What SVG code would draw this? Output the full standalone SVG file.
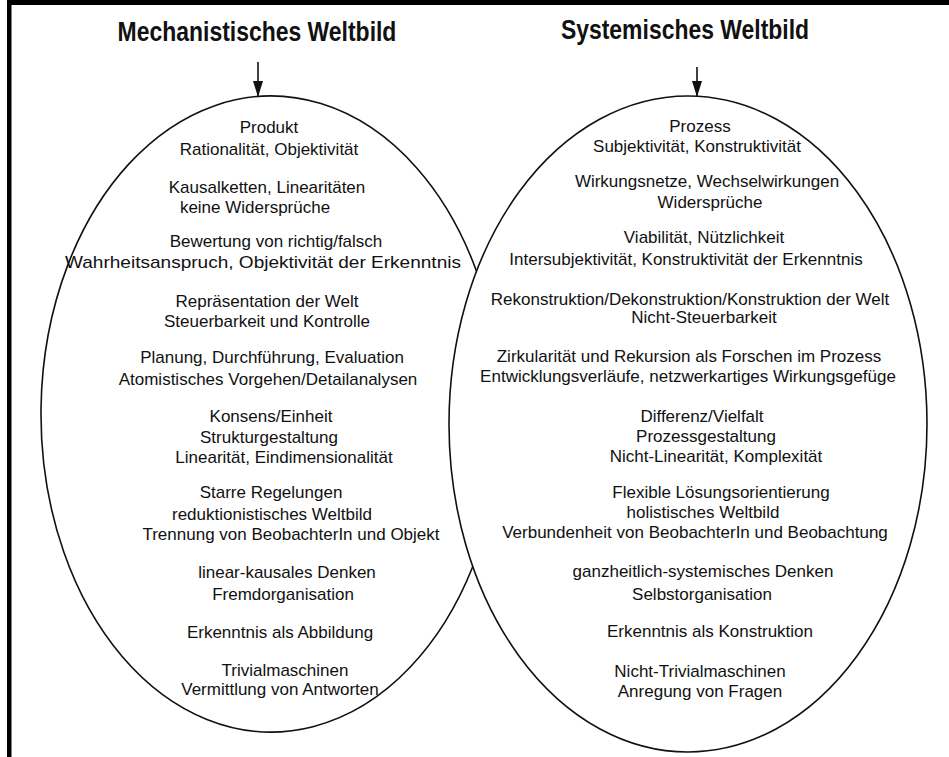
<svg xmlns="http://www.w3.org/2000/svg" width="949" height="757" viewBox="0 0 949 757">
  <style>
    .frame { fill: #000; }
    .title { font-family: "Liberation Sans", Arial, sans-serif; font-weight: bold; font-size: 27px; fill: #111; text-anchor: middle; }
    .item { font-family: "Liberation Sans", Arial, sans-serif; font-size: 17px; fill: #111; text-anchor: middle; }
    .outline { fill: none; stroke: #111; stroke-width: 1.6; }
    .link { stroke: #111; stroke-width: 1.6; fill: none; marker-end: url(#arrowhead); }
  </style>
  <defs>
    <marker id="arrowhead" viewBox="0 0 16 10" refX="16" refY="5" markerWidth="16" markerHeight="10" markerUnits="userSpaceOnUse" orient="auto">
      <path d="M0,0 L16,5 L0,10 z" fill="#111"/>
    </marker>
  </defs>

  <rect width="949" height="757" fill="#fff"/>

  <!-- page frame: rule along the top and the left edge -->
  <rect class="frame" x="7" y="0" width="942" height="5"/>
  <rect class="frame" x="7" y="0" width="4.5" height="757"/>

  <!-- headings -->
  <g id="title-mechanistic">
    <text class="title" transform="translate(257 41) scale(0.85 1)">Mechanistisches Weltbild</text>
  </g>
  <g id="title-systemic">
    <text class="title" transform="translate(685 39) scale(0.85 1)">Systemisches Weltbild</text>
  </g>

  <!-- arrows from the headings into the ellipses -->
  <g id="connectors">
    <path class="link" d="M258,62 L258,97"/>
    <path class="link" d="M697,67 L697,97"/>
  </g>

  <!-- left ellipse: open where it meets the right ellipse -->
  <g id="mechanistic">
    <path class="outline" d="M476.5,271.2 A230,318 0 1 0 472.7,566.8"/>
    <text class="item" x="269" y="133">Produkt</text>
    <text class="item" x="269" y="155">Rationalität, Objektivität</text>
    <text class="item" x="267" y="193">Kausalketten, Linearitäten</text>
    <text class="item" x="255" y="213">keine Widersprüche</text>
    <text class="item" x="276" y="247">Bewertung von richtig/falsch</text>
    <text class="item" x="263" y="268" textLength="396" lengthAdjust="spacingAndGlyphs">Wahrheitsanspruch, Objektivität der Erkenntnis</text>
    <text class="item" x="267" y="307">Repräsentation der Welt</text>
    <text class="item" x="267" y="327">Steuerbarkeit und Kontrolle</text>
    <text class="item" x="272" y="363">Planung, Durchführung, Evaluation</text>
    <text class="item" x="268" y="385">Atomistisches Vorgehen/Detailanalysen</text>
    <text class="item" x="271" y="422">Konsens/Einheit</text>
    <text class="item" x="269" y="443">Strukturgestaltung</text>
    <text class="item" x="284" y="463">Linearität, Eindimensionalität</text>
    <text class="item" x="271" y="498">Starre Regelungen</text>
    <text class="item" x="272" y="520">reduktionistisches Weltbild</text>
    <text class="item" x="291" y="540">Trennung von BeobachterIn und Objekt</text>
    <text class="item" x="287" y="578">linear-kausales Denken</text>
    <text class="item" x="283" y="600">Fremdorganisation</text>
    <text class="item" x="280" y="638">Erkenntnis als Abbildung</text>
    <text class="item" x="285" y="676">Trivialmaschinen</text>
    <text class="item" x="280" y="695">Vermittlung von Antworten</text>
  </g>

  <!-- right ellipse -->
  <g id="systemic">
    <ellipse class="outline" cx="688" cy="424" rx="239" ry="328"/>
    <text class="item" x="700" y="132">Prozess</text>
    <text class="item" x="697" y="152">Subjektivität, Konstruktivität</text>
    <text class="item" x="707" y="187">Wirkungsnetze, Wechselwirkungen</text>
    <text class="item" x="710" y="208">Widersprüche</text>
    <text class="item" x="704" y="243">Viabilität, Nützlichkeit</text>
    <text class="item" x="686" y="265">Intersubjektivität, Konstruktivität der Erkenntnis</text>
    <text class="item" x="690" y="305">Rekonstruktion/Dekonstruktion/Konstruktion der Welt</text>
    <text class="item" x="704" y="323">Nicht-Steuerbarkeit</text>
    <text class="item" x="689" y="362">Zirkularität und Rekursion als Forschen im Prozess</text>
    <text class="item" x="688" y="382">Entwicklungsverläufe, netzwerkartiges Wirkungsgefüge</text>
    <text class="item" x="702" y="422">Differenz/Vielfalt</text>
    <text class="item" x="706" y="442">Prozessgestaltung</text>
    <text class="item" x="716" y="462">Nicht-Linearität, Komplexität</text>
    <text class="item" x="721" y="498">Flexible Lösungsorientierung</text>
    <text class="item" x="703" y="518">holistisches Weltbild</text>
    <text class="item" x="695" y="538">Verbundenheit von BeobachterIn und Beobachtung</text>
    <text class="item" x="703" y="577">ganzheitlich-systemisches Denken</text>
    <text class="item" x="702" y="600">Selbstorganisation</text>
    <text class="item" x="710" y="637">Erkenntnis als Konstruktion</text>
    <text class="item" x="700" y="677">Nicht-Trivialmaschinen</text>
    <text class="item" x="700" y="697">Anregung von Fragen</text>
  </g>
</svg>
